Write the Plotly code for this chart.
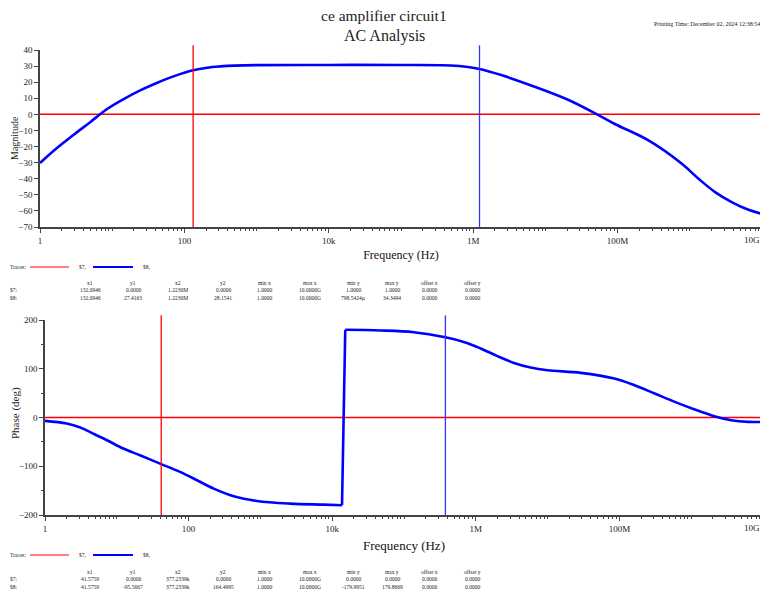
import plotly.graph_objects as go

# the page body has an 8px margin, so the figure is drawn 8px smaller and shifted
OFF = 8
W, H = 768 - OFF, 594 - OFF
RIGHT = 761  # rightmost page pixel that stays visible

# magnitude of $8 (dB)
mag_freq = [1, 1.7, 2.9, 4.9, 8.5, 14.4, 24.4, 41.4, 70.6, 132.0946, 206, 316, 500,
            1e3, 1e4, 1e5, 4.92e5, 8.45e5, 1.223e6, 2.45e6, 7.1e6, 2.06e7, 5.2e7, 9.17e7,
            2.68e8, 7.76e8, 1.32e9, 2.24e9, 3.8e9, 6.5e9, 1e10]
mag_db = [-30.2, -21.1, -12.8, -5.0, 3.3, 9.5, 14.9, 19.5, 23.6, 27.4, 29.0, 29.8, 30.3,
          30.6, 30.7, 30.7, 30.4, 29.4, 28.2, 24.4, 17.2, 9.1, 0.0, -6.0, -16.2,
          -30.7, -40.0, -48.3, -54.5, -59.3, -61.8]

# phase of $8 (deg)
phase_freq = [1, 2, 3.1, 4.7, 7.3, 12.3, 21, 41.5759, 76, 131, 224, 426, 895, 2.6e3, 7.6e3,
              1.37e4, 1.52e4, 4.7e4, 1.37e5, 3.772339e5, 6.8e5, 1.17e6, 2e6, 3.4e6, 5.8e6,
              1e7, 2.9e7, 8.5e7, 1.62e8, 3.09e8, 5.9e8, 1.12e9, 2.1e9, 3.6e9, 6.2e9, 1e10]
phase_deg = [-7.0, -12.4, -20.5, -33.0, -46.6, -63.7, -77.4, -95.6, -111.6, -128.7, -145.8,
             -161.6, -171.2, -176.6, -178.7, -180.0, 179.9, 178.6, 175.0, 164.5, 155.0, 141.6,
             125.9, 112.0, 102.6, 97.0, 91.6, 80.0, 66.3, 49.3, 32.0, 16.4, 2.7, -5.5, -9.0, -9.0]

# $7 reference trace (0 dB / 0 deg)
s7_freq = [1, 1e10]
s7_val = [0.0, 0.0]

# cursors
mag_cursors = [132.0946, 1.2230e6]
phase_cursors = [41.5759, 377.2339e3]

tick_vals = [1, 1e2, 1e4, 1e6, 1e8, 1e10]
tick_text = ["1", "100", "10k", "1M", "100M", "10G"]

col_names = ["x1", "y1", "x2", "y2", "min x", "max x", "min y", "max y", "offset x", "offset y"]
mag_table = {
    "$7:": ["132.0946", "0.0000", "1.2230M", "0.0000", "1.0000", "10.0000G", "1.0000", "1.0000", "0.0000", "0.0000"],
    "$8:": ["132.0946", "27.4163", "1.2230M", "28.1541", "1.0000", "10.0000G", "798.5424\u00b5", "34.3494", "0.0000", "0.0000"],
}
phase_table = {
    "$7:": ["41.5759", "0.0000", "377.2339k", "0.0000", "1.0000", "10.0000G", "0.0000", "0.0000", "0.0000", "0.0000"],
    "$8:": ["41.5759", "-95.5667", "377.2339k", "164.4995", "1.0000", "10.0000G", "-179.9951", "179.8669", "0.0000", "0.0000"],
}

SERIF = "Liberation Serif"
BLUE = "#0000ff"
RED = "#ff0000"


def px(x):
    return max(x - OFF, 0) / W


def py(y):
    return 1 - (y - OFF) / H


fig = go.Figure()

# top: magnitude
fig.add_trace(go.Scatter(x=s7_freq, y=s7_val, mode="lines", line=dict(color=RED, width=1.5),
                         xaxis="x", yaxis="y", showlegend=False))
fig.add_trace(go.Scatter(x=mag_freq, y=mag_db, mode="lines",
                         line=dict(color=BLUE, width=2.6, shape="spline", smoothing=1),
                         xaxis="x", yaxis="y", showlegend=False))

# bottom: phase, split at the wrap so the spline does not overshoot
jump = next(i for i in range(1, len(phase_deg)) if phase_deg[i] - phase_deg[i - 1] > 180)
fig.add_trace(go.Scatter(x=s7_freq, y=s7_val, mode="lines", line=dict(color=RED, width=1.5),
                         xaxis="x2", yaxis="y2", showlegend=False))
for xs, ys, shp in [(phase_freq[:jump], phase_deg[:jump], "spline"),
                    (phase_freq[jump - 1:jump + 1], phase_deg[jump - 1:jump + 1], "linear"),
                    (phase_freq[jump:], phase_deg[jump:], "spline")]:
    fig.add_trace(go.Scatter(x=xs, y=ys, mode="lines",
                             line=dict(color=BLUE, width=2.6, shape=shp, smoothing=1),
                             xaxis="x2", yaxis="y2", showlegend=False))

# cursors
top_dom = [py(227), py(50)]
bot_dom = [py(515), py(320)]
for xa, ya, cur, dom, ytop in [("x", "y", mag_cursors, top_dom, 43),
                               ("x2", "y2", phase_cursors, bot_dom, 207)]:
    for c, col in zip(cur, [RED, "#3333ff"]):
        fig.add_shape(type="line", xref=xa, yref="paper", x0=c, x1=c,
                      y0=dom[0], y1=dom[1] + 0.008, line=dict(color=col, width=1.3))
        fig.add_trace(go.Scatter(x=[c], y=[ytop], mode="markers", cliponaxis=False,
                                 marker=dict(symbol="triangle-down", size=7, color=col),
                                 xaxis=xa, yaxis=ya, showlegend=False))

# the last label ("10G") sits flush with the right edge, so it is drawn as an annotation
axis_common = dict(type="log", showgrid=False, zeroline=False, showline=True, automargin=False,
                   linecolor="#444", linewidth=1.5, ticks="outside", ticklen=4,
                   tickcolor="#444", tickvals=tick_vals, ticktext=tick_text[:-1] + [""],
                   tickfont=dict(family=SERIF, size=9, color="#222"),
                   minor=dict(ticks="outside", ticklen=2, dtick="D1", tickcolor="#444"),
                   range=[0, 10])
yaxis_common = dict(showgrid=False, zeroline=False, showline=True, linecolor="#444",
                    automargin=False, linewidth=1.5, ticks="outside", ticklen=4, tickcolor="#444",
                    tickfont=dict(family=SERIF, size=9, color="#222"))

fig.update_layout(
    width=W, height=H, margin=dict(l=0, r=0, t=0, b=0),
    paper_bgcolor="white", plot_bgcolor="white",
    xaxis=dict(axis_common, domain=[px(40), px(762)], anchor="y",
               title=dict(text="Frequency (Hz)", font=dict(family=SERIF, size=12, color="#111"), standoff=6)),
    yaxis=dict(yaxis_common, domain=top_dom, anchor="x", range=[-70, 40], dtick=10),
    xaxis2=dict(axis_common, domain=[px(45), px(763)], anchor="y2",
                title=dict(text="Frequency (Hz)", font=dict(family=SERIF, size=13, color="#111"), standoff=8)),
    yaxis2=dict(yaxis_common, domain=bot_dom, anchor="x2", range=[-200, 200], dtick=100,
                minor=dict(ticks="outside", ticklen=2, dtick=50, tickcolor="#444")),
)

ann = []
ann.append(dict(text="ce amplifier circuit1", x=px(384), y=1, yanchor="top", yshift=2,
                borderpad=0, font=dict(size=15.5)))
ann.append(dict(text="Printing Time: December 02, 2024 12:38:54", x=px(RIGHT), y=py(24),
                xanchor="right", borderpad=0, font=dict(size=6)))
ann.append(dict(text="AC Analysis", x=px(384), y=py(36), font=dict(size=16)))
ann.append(dict(text="Magnitude", x=px(15), y=py(138), textangle=-90, borderpad=0,
                font=dict(size=10)))
ann.append(dict(text="Phase (deg)", x=px(15), y=py(413), textangle=-90, borderpad=0,
                font=dict(size=11)))
for label_y in [240, 528]:
    ann.append(dict(text=tick_text[-1], x=px(RIGHT), y=py(label_y), xanchor="right",
                    borderpad=0, font=dict(size=9)))

col_x = [90, 133, 178, 223, 264, 310, 353, 392, 430, 472]
for legend_y, table, head_y in [(267, mag_table, 283), (555, phase_table, 572)]:
    ann.append(dict(text="Traces:", x=px(4), y=py(legend_y), xanchor="left", font=dict(size=5.5)))
    ann.append(dict(text="$7,", x=px(77), y=py(legend_y), xanchor="left", font=dict(size=5.5)))
    ann.append(dict(text="$8,", x=px(141), y=py(legend_y), xanchor="left", font=dict(size=5.5)))
    fig.add_shape(type="line", xref="paper", yref="paper", x0=px(30), x1=px(69),
                  y0=py(legend_y), y1=py(legend_y), line=dict(color=RED, width=1))
    fig.add_shape(type="line", xref="paper", yref="paper", x0=px(93), x1=px(133),
                  y0=py(legend_y), y1=py(legend_y), line=dict(color=BLUE, width=2))
    for name, cx in zip(col_names, col_x):
        ann.append(dict(text=name, x=px(cx), y=py(head_y), font=dict(size=5.5)))
    for r, (label, vals) in enumerate(table.items()):
        ry = head_y + 7 + r * 8
        ann.append(dict(text=label, x=px(4), y=py(ry), xanchor="left", font=dict(size=5.5)))
        for v, cx in zip(vals, col_x):
            ann.append(dict(text=v, x=px(cx), y=py(ry), font=dict(size=5.5)))

for a in ann:
    a.setdefault("xanchor", "center")
    a.setdefault("yanchor", "middle")
    a["font"] = dict(family=SERIF, color="#222", **a["font"])
    fig.add_annotation(xref="paper", yref="paper", showarrow=False, **a)

fig.write_html("out.html")
